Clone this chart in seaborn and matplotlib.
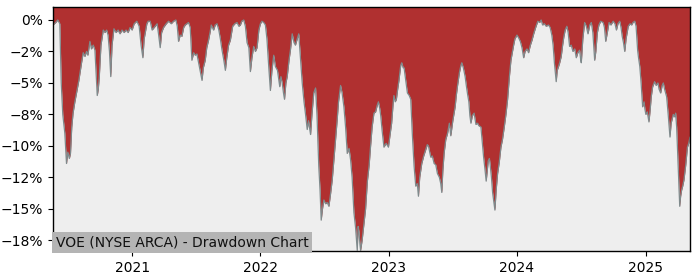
import numpy as np
import pandas as pd
import matplotlib
matplotlib.use("Agg")
import matplotlib.pyplot as plt
import matplotlib.ticker as mticker
import seaborn as sns

# Dates as decimal years, drawdown in percent
years = [
    2020.385, 2020.406, 2020.422, 2020.438, 2020.449, 2020.461, 2020.477, 2020.490, 2020.500, 2020.512,
    2020.521, 2020.531, 2020.541, 2020.555, 2020.568, 2020.586, 2020.607, 2020.620, 2020.633, 2020.646,
    2020.656, 2020.672, 2020.684, 2020.698, 2020.711, 2020.721, 2020.729, 2020.737, 2020.745, 2020.758,
    2020.776, 2020.789, 2020.802, 2020.813, 2020.824, 2020.834, 2020.844, 2020.859, 2020.875, 2020.891,
    2020.906, 2020.922, 2020.938, 2020.953, 2020.969, 2020.984, 2021.000, 2021.016, 2021.037, 2021.055,
    2021.070, 2021.084, 2021.094, 2021.115, 2021.125, 2021.141, 2021.156, 2021.180, 2021.195, 2021.207,
    2021.219, 2021.230, 2021.245, 2021.266, 2021.284, 2021.305, 2021.323, 2021.341, 2021.352, 2021.362,
    2021.375, 2021.388, 2021.402, 2021.414, 2021.440, 2021.453, 2021.466, 2021.480, 2021.492, 2021.505,
    2021.520, 2021.534, 2021.545, 2021.555, 2021.570, 2021.582, 2021.596, 2021.609, 2021.617, 2021.635,
    2021.648, 2021.662, 2021.676, 2021.688, 2021.701, 2021.715, 2021.727, 2021.738, 2021.752, 2021.766,
    2021.784, 2021.801, 2021.818, 2021.832, 2021.844, 2021.855, 2021.870, 2021.883, 2021.896, 2021.910,
    2021.922, 2021.934, 2021.948, 2021.961, 2021.974, 2021.988, 2022.000, 2022.012, 2022.026, 2022.039,
    2022.051, 2022.065, 2022.078, 2022.090, 2022.104, 2022.117, 2022.133, 2022.151, 2022.160, 2022.170,
    2022.180, 2022.188, 2022.199, 2022.209, 2022.223, 2022.234, 2022.248, 2022.262, 2022.273, 2022.287,
    2022.299, 2022.309, 2022.326, 2022.340, 2022.352, 2022.365, 2022.375, 2022.391, 2022.402, 2022.416,
    2022.430, 2022.441, 2022.455, 2022.465, 2022.474, 2022.484, 2022.495, 2022.508, 2022.521, 2022.534,
    2022.547, 2022.560, 2022.574, 2022.586, 2022.598, 2022.609, 2022.625, 2022.637, 2022.651, 2022.664,
    2022.677, 2022.691, 2022.703, 2022.715, 2022.729, 2022.742, 2022.755, 2022.762, 2022.768, 2022.776,
    2022.781, 2022.793, 2022.807, 2022.820, 2022.834, 2022.848, 2022.859, 2022.871, 2022.885, 2022.898,
    2022.910, 2022.920, 2022.930, 2022.938, 2022.949, 2022.963, 2022.980, 2022.998, 2023.012, 2023.023,
    2023.035, 2023.041, 2023.051, 2023.060, 2023.070, 2023.080, 2023.094, 2023.102, 2023.113, 2023.120,
    2023.133, 2023.146, 2023.160, 2023.172, 2023.184, 2023.198, 2023.211, 2023.223, 2023.232, 2023.242,
    2023.258, 2023.273, 2023.289, 2023.301, 2023.310, 2023.320, 2023.328, 2023.340, 2023.354, 2023.367,
    2023.380, 2023.395, 2023.406, 2023.414, 2023.422, 2023.432, 2023.445, 2023.459, 2023.473, 2023.484,
    2023.500, 2023.518, 2023.527, 2023.537, 2023.551, 2023.563, 2023.570, 2023.582, 2023.596, 2023.605,
    2023.615, 2023.625, 2023.633, 2023.641, 2023.652, 2023.666, 2023.680, 2023.693, 2023.703, 2023.719,
    2023.730, 2023.740, 2023.750, 2023.760, 2023.768, 2023.776, 2023.785, 2023.791, 2023.801, 2023.810,
    2023.820, 2023.828, 2023.838, 2023.849, 2023.862, 2023.875, 2023.887, 2023.901, 2023.914, 2023.927,
    2023.941, 2023.953, 2023.965, 2023.974, 2023.984, 2024.000, 2024.012, 2024.026, 2024.039, 2024.052,
    2024.063, 2024.078, 2024.090, 2024.104, 2024.117, 2024.130, 2024.145, 2024.162, 2024.176, 2024.188,
    2024.199, 2024.213, 2024.227, 2024.245, 2024.258, 2024.271, 2024.281, 2024.291, 2024.305, 2024.313,
    2024.323, 2024.332, 2024.344, 2024.355, 2024.365, 2024.375, 2024.388, 2024.398, 2024.409, 2024.422,
    2024.435, 2024.449, 2024.461, 2024.473, 2024.487, 2024.496, 2024.500, 2024.512, 2024.526, 2024.539,
    2024.552, 2024.566, 2024.578, 2024.590, 2024.604, 2024.613, 2024.625, 2024.637, 2024.651, 2024.670,
    2024.680, 2024.690, 2024.699, 2024.716, 2024.730, 2024.748, 2024.762, 2024.773, 2024.785, 2024.799,
    2024.809, 2024.818, 2024.828, 2024.838, 2024.848, 2024.865, 2024.879, 2024.891, 2024.902, 2024.916,
    2024.926, 2024.938, 2024.945, 2024.955, 2024.965, 2024.977, 2024.988, 2024.995, 2025.002, 2025.013,
    2025.026, 2025.035, 2025.044, 2025.055, 2025.070, 2025.082, 2025.096, 2025.105, 2025.117, 2025.129,
    2025.138, 2025.148, 2025.164, 2025.176, 2025.190, 2025.199, 2025.216, 2025.227, 2025.234, 2025.242,
    2025.252, 2025.259, 2025.266, 2025.273, 2025.281, 2025.289, 2025.299, 2025.313, 2025.326, 2025.336,
    2025.346,
]
drawdown = [
    -0.4, -0.2, 0.0, -0.3, -5.0, -7.5, -9.0, -11.4, -10.5, -11.0,
    -10.6, -8.5, -7.4, -6.5, -5.8, -4.8, -3.4, -2.6, -2.9, -2.5,
    -2.8, -1.7, -2.3, -2.0, -2.4, -4.5, -6.0, -5.5, -4.5, -2.0,
    -0.8, -1.0, -0.8, -1.2, -2.5, -4.5, -2.0, -0.7, -1.0, -0.8,
    -1.1, -0.8, -1.0, -0.8, -1.0, -0.6, -0.8, -0.3, -0.1, -0.5,
    -2.0, -3.0, -1.5, -0.3, -0.1, -0.1, -0.8, -0.5, -0.3, -1.2,
    -2.2, -1.0, -0.6, -0.3, -0.1, -0.3, -0.1, 0.0, -0.5, -1.7,
    -1.2, -1.3, -0.6, -0.4, -0.2, -0.6, -3.2, -2.6, -2.8, -2.7,
    -3.5, -4.2, -4.8, -3.8, -3.2, -2.2, -1.6, -0.9, -0.4, -0.8,
    -0.4, -0.3, -0.8, -1.5, -2.4, -3.2, -4.0, -3.0, -2.0, -1.6,
    -0.5, -0.3, -0.2, -0.5, -0.4, -0.1, 0.0, -0.5, -1.8, -2.2,
    -4.1, -3.0, -2.1, -2.5, -2.2, -0.8, -0.3, -0.1, -0.2, -0.4,
    -1.5, -3.7, -5.6, -4.0, -2.8, -3.7, -4.0, -5.3, -4.5, -5.0,
    -5.8, -6.3, -5.0, -4.5, -3.2, -2.4, -1.1, -1.8, -2.0, -1.5,
    -1.1, -2.5, -5.0, -6.5, -7.5, -8.7, -8.0, -9.1, -7.5, -5.8,
    -5.4, -7.5, -11.6, -13.5, -15.9, -15.0, -14.3, -14.6, -14.5, -14.8,
    -13.8, -12.7, -11.0, -9.5, -8.0, -6.5, -5.2, -5.8, -6.9, -8.5,
    -10.6, -10.2, -11.1, -12.5, -15.3, -16.5, -18.3, -16.4, -16.8, -17.8,
    -18.3, -17.5, -16.2, -15.0, -12.8, -11.5, -10.0, -8.5, -7.4, -7.3,
    -6.8, -6.5, -7.0, -7.6, -8.8, -10.1, -9.8, -10.1, -9.0, -8.2,
    -6.6, -6.0, -6.5, -6.3, -5.5, -4.8, -3.6, -3.4, -3.8, -3.8,
    -4.8, -5.8, -6.0, -6.3, -9.0, -11.6, -13.2, -13.0, -14.0, -12.5,
    -11.4, -10.8, -10.3, -9.9, -10.0, -10.5, -10.9, -10.8, -11.4, -11.5,
    -12.2, -12.5, -13.0, -13.7, -12.0, -10.6, -9.5, -9.0, -8.2, -9.2,
    -8.0, -6.9, -6.0, -5.2, -4.2, -3.6, -3.4, -3.8, -4.5, -5.2,
    -5.9, -6.5, -7.6, -8.2, -7.6, -7.4, -8.3, -8.2, -8.4, -8.5,
    -9.8, -10.9, -11.8, -12.8, -12.0, -11.2, -11.0, -11.5, -12.5, -13.7,
    -14.5, -15.1, -13.5, -12.2, -11.3, -10.1, -9.5, -8.5, -7.5, -6.3,
    -4.5, -3.2, -2.5, -2.0, -1.5, -1.2, -1.4, -1.7, -2.2, -3.0,
    -2.5, -2.3, -2.6, -2.0, -1.6, -1.1, -0.6, -0.1, -0.2, 0.0,
    -0.4, -0.3, -0.5, -0.4, -0.6, -1.2, -2.0, -3.4, -4.9, -4.0,
    -3.7, -3.4, -2.9, -2.0, -1.3, -0.8, -0.5, -1.0, -2.1, -2.0,
    -2.5, -2.3, -3.0, -2.6, -2.4, -3.2, -3.4, -1.5, -0.2, -0.5,
    -1.1, -0.4, -0.2, -1.0, -3.2, -2.5, -1.0, -0.4, -0.1, -0.2,
    -0.6, -1.7, -1.2, -0.2, -0.4, -0.1, -0.3, -0.8, -0.3, -0.1,
    -0.6, -1.3, -1.8, -2.5, -1.5, -0.5, -0.3, -0.4, -0.2, -0.1,
    -0.5, -2.4, -3.0, -3.7, -5.0, -6.9, -6.5, -7.1, -7.5, -7.3,
    -8.1, -7.2, -6.1, -5.3, -4.9, -5.2, -5.0, -5.5, -5.8, -5.2,
    -5.0, -5.5, -6.1, -7.5, -9.3, -8.2, -7.5, -7.7, -7.4, -8.5,
    -11.1, -13.0, -14.8, -14.0, -13.5, -13.2, -12.7, -11.5, -10.1, -9.8,
    -9.3,
]
yticks = [0, -2.5, -5, -7.5, -10, -12.5, -15, -17.5]
label_text = "VOE (NYSE ARCA) - Drawdown Chart"


def to_date(y):
    yr = int(np.floor(y))
    start = pd.Timestamp(f"{yr}-01-01")
    end = pd.Timestamp(f"{yr + 1}-01-01")
    return start + (end - start) * (y - yr)


n = min(len(years), len(drawdown))
df = pd.DataFrame({
    "date": [to_date(y) for y in years[:n]],
    "dd": drawdown[:n],
})

sns.set_style("ticks")
fig = plt.figure(figsize=(7, 2.8), dpi=100)
ax = fig.add_axes([0.0757, 0.1036, 0.91, 0.8714])
ax.set_facecolor("#eeeeee")

top = 1.03
ax.fill_between(df["date"], df["dd"], top, color="#b03030", linewidth=0)
sns.lineplot(data=df, x="date", y="dd", ax=ax, color="#7f8a8c", linewidth=0.9)

ax.set_xlim(df["date"].iloc[0], df["date"].iloc[-1])
ax.set_ylim(-18.35, top)
ax.set_yticks(yticks)
ax.yaxis.set_major_formatter(mticker.FuncFormatter(
    lambda v, p: (f"{v:.0f}%").replace("-", "\u2212")))
ax.xaxis.set_major_locator(matplotlib.dates.YearLocator())
ax.xaxis.set_major_formatter(matplotlib.dates.DateFormatter("%Y"))
ax.set_xlabel("")
ax.set_ylabel("")
ax.tick_params(labelsize=10, colors="black")
for s in ax.spines.values():
    s.set_visible(True)
    s.set_color("black")
    s.set_linewidth(1.0)

ax.text(0.004, 0.006, label_text, transform=ax.transAxes, fontsize=10,
        ha="left", va="bottom", color="#111111",
        bbox=dict(facecolor="#b4b4b4", edgecolor="none", pad=2.5))

fig.savefig("out.png", dpi=100)
